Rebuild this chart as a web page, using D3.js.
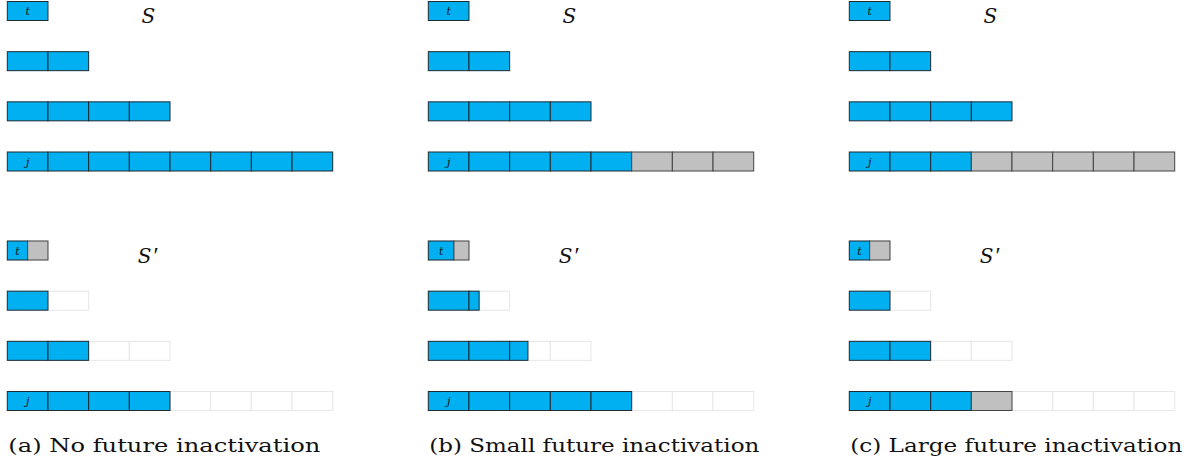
<!DOCTYPE html>
<html>
<head>
<meta charset="utf-8">
<script src="https://cdn.jsdelivr.net/npm/d3@7"></script>
<style>
  body { margin: 0; background: #fff; }
</style>
</head>
<body>
<div id="chart"></div>
<script>
const width = 1188, height = 466;

// one entry per panel
const captions = ['(a) No future inactivation', '(b) Small future inactivation', '(c) Large future inactivation'];
const rowCells = [1, 2, 4, 8];            // cells per row (same for S and S')
const rowLabels = ['t', '', '', 'j'];
// S: active (blue) cells per row, the rest is inactive (grey)
const activeS = [[1, 2, 4, 8], [1, 2, 4, 5], [1, 2, 4, 3]];
// S': blue amount per row (in cells), then grey amount after it
const activeS2 = [[0.5, 1, 2, 4], [0.63, 1.25, 2.45, 5], [0.5, 1, 2, 3]];
const inactiveS2 = [[0.5, 0, 0, 0], [0.37, 0, 0, 0], [0.5, 0, 0, 1]];

const blue = '#00b0f0', grey = '#c0c0c0';

const svg = d3.select('#chart').append('svg')
  .attr('width', width)
  .attr('height', height);

const panelX = d3.scaleBand().domain(d3.range(3)).range([7.3, 7.3 + 3 * 421]).paddingInner(0);
const cellX = d3.scaleLinear().domain([0, 8]).range([0, 325.4]);
const rowY = d3.scaleLinear().domain([0, 3]).range([1.5, 152]);
const cellH = 19;
const blockY = [0, 239.5];   // S block, S' block

function segments(blueAmt, greyAmt) {
  // split blue and grey amounts along cell boundaries
  const segs = [];
  let pos = 0;
  [[blueAmt, 'b'], [greyAmt, 'g']].forEach(([amt, kind]) => {
    let left = amt;
    while (left > 1e-6) {
      const next = Math.min(Math.floor(pos + 1e-6) + 1, pos + left);
      segs.push({ x0: pos, x1: next, kind: kind });
      left -= next - pos;
      pos = next;
    }
  });
  return segs;
}

captions.forEach((cap, p) => {
  const g = svg.append('g').attr('transform', 'translate(' + panelX(p) + ',0)');

  [0, 1].forEach((b) => {
    const gb = g.append('g').attr('transform', 'translate(0,' + blockY[b] + ')');
    rowCells.forEach((n, r) => {
      const y = rowY(r);
      let segs;
      if (b === 0) segs = segments(activeS[p][r], n - activeS[p][r]);
      else {
        // empty grid underneath
        gb.selectAll(null).data(d3.range(n)).enter().append('rect')
          .attr('x', (d) => cellX(d))
          .attr('y', y)
          .attr('width', cellX(1))
          .attr('height', cellH)
          .attr('fill', '#fff')
          .attr('stroke', '#e6e6e6')
          .attr('stroke-width', 1);
        segs = segments(activeS2[p][r], inactiveS2[p][r]);
      }
      gb.selectAll(null).data(segs).enter().append('rect')
        .attr('x', (d) => cellX(d.x0))
        .attr('y', y)
        .attr('width', (d) => cellX(d.x1) - cellX(d.x0))
        .attr('height', cellH)
        .attr('fill', (d) => d.kind === 'b' ? blue : grey)
        .attr('stroke', (d) => d.kind === 'b' ? '#1d2b33' : '#444')
        .attr('stroke-width', 1);
      if (rowLabels[r]) {
        const lw = b === 1 && r === 0 ? cellX(activeS2[p][0]) : cellX(1);
        gb.append('text')
          .attr('x', lw / 2)
          .attr('y', y + cellH / 2 + 4)
          .attr('text-anchor', 'middle')
          .attr('font-family', 'DejaVu Serif')
          .attr('font-style', 'italic')
          .attr('font-size', 11)
          .attr('fill', '#111')
          .text(rowLabels[r]);
      }
    });
    const lab = gb.append('text')
      .attr('x', 141)
      .attr('y', 23)
      .attr('text-anchor', 'middle')
      .attr('font-family', 'DejaVu Serif')
      .attr('font-style', 'italic')
      .attr('font-size', 20)
      .attr('fill', '#111')
      .text('S');
    if (b === 1) {
      lab.append('tspan')
        .attr('font-family', 'Liberation Serif')
        .attr('font-style', 'normal')
        .attr('font-size', 24)
        .attr('dx', 2)
        .text('\u2032');
    }
  });

  g.append('text')
    .attr('x', 1)
    .attr('y', 452)
    .attr('font-family', 'DejaVu Serif')
    .attr('font-size', 18)
    .attr('textLength', p === 0 ? 312 : (p === 1 ? 330 : 332))
    .attr('lengthAdjust', 'spacingAndGlyphs')
    .attr('fill', '#111')
    .text(cap);
});
</script>
</body>
</html>
